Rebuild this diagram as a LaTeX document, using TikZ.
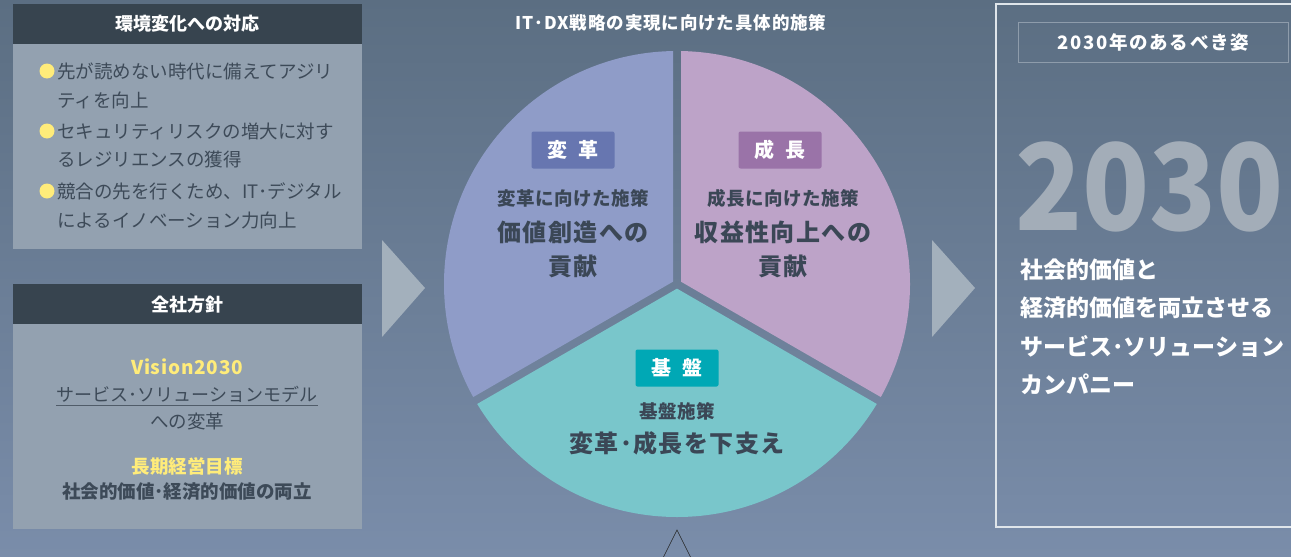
\documentclass[tikz,border=0pt]{standalone}
\usepackage{fontspec}
\setmainfont{Noto Sans CJK JP}
\usetikzlibrary{calc}
\definecolor{bgtop}{HTML}{5B6E82}
\definecolor{bgbot}{HTML}{7A8DAA}
\definecolor{hdrc}{HTML}{37444F}
\definecolor{bodyc}{HTML}{93A1B0}
\definecolor{txtc}{HTML}{3D4A58}
\definecolor{yel}{HTML}{FFEC7A}
\definecolor{tric}{HTML}{A3B0BC}
\definecolor{blu}{HTML}{8F9CC8}
\definecolor{pur}{HTML}{BDA3C8}
\definecolor{tea}{HTML}{79C6CB}
\definecolor{blulab}{HTML}{6776B0}
\definecolor{purlab}{HTML}{9A73A8}
\definecolor{tealab}{HTML}{00A8B5}
\definecolor{pietxt}{HTML}{3B4756}
\definecolor{big}{HTML}{A3ADB8}
\definecolor{frm}{HTML}{DFE5EA}
\definecolor{hfrm}{HTML}{8E9CAB}
\begin{document}
\begin{tikzpicture}[x=1pt,y=-1pt,
  hdr/.style={fill=hdrc, text=white, inner sep=0, font=\fontsize{18}{20}\selectfont\bfseries},
  bodybox/.style={fill=bodyc, inner sep=0},
  btext/.style={text=txtc, inner sep=0, anchor=west, font=\fontsize{18.5}{20}\selectfont},
  dot/.style={circle, fill=yel, minimum size=15, inner sep=0},
  ctext/.style={text=txtc, inner sep=0, font=\fontsize{18.5}{20}\selectfont},
  ytext/.style={text=yel, inner sep=0, font=\fontsize{18.5}{20}\selectfont\bfseries},
  tri/.style={fill=tric},
  lab/.style={rounded corners=2pt, minimum width=83, minimum height=37, inner sep=0, text=white, font=\fontsize{20}{22}\selectfont\bfseries},
  psub/.style={text=pietxt, inner sep=0, font=\fontsize{18.5}{20}\selectfont\bfseries\addfontfeature{LetterSpace=3}},
  pmain/.style={text=pietxt, inner sep=0, font=\fontsize{24}{26}\selectfont\bfseries\addfontfeature{LetterSpace=6}},
  rtext/.style={text=white, inner sep=0, anchor=west, font=\fontsize{23}{26}\selectfont\bfseries},
]
\useasboundingbox (0,0) rectangle (1291,557);
\shade[top color=bgtop, bottom color=bgbot] (0,0) rectangle (1291,557);

% ---- left top box
\node[bodybox, minimum width=349, minimum height=205, anchor=north west] (b1) at (13,44) {};
\node[hdr, minimum width=349, minimum height=40, anchor=north west] (h1) at (13,4) {環境変化への対応};
\node[dot] (d1) at (47,71) {};
\node[dot] (d2) at (47,131) {};
\node[dot] (d3) at (47,191) {};
\node[btext] (t1a) at (57,71) {先が読めない時代に備えてアジリ};
\node[btext] (t1b) at (57,100) {ティを向上};
\node[btext] (t2a) at (57,131) {セキュリティリスクの増大に対す};
\node[btext] (t2b) at (57,159) {るレジリエンスの獲得};
\node[btext] (t3a) at (57,191) {競合の先を行くため、IT･デジタル};
\node[btext] (t3b) at (57,220) {によるイノベーション力向上};

% ---- left bottom box
\node[bodybox, minimum width=349, minimum height=205, anchor=north west] (b2) at (13,324) {};
\node[hdr, minimum width=349, minimum height=40, anchor=north west] (h2) at (13,284) {全社方針};
\node[ytext, font=\fontsize{19}{20}\selectfont\bfseries\addfontfeature{LetterSpace=4}] (v1) at (187,367) {Vision2030};
\node[ctext, font=\fontsize{18}{20}\selectfont] (v2) at (187,394) {サービス･ソリューションモデル};
\draw[txtc!90, line width=1] ($(v2.south west)+(0,3)$) -- ($(v2.south east)+(0,3)$);
\node[ctext] (v3) at (187,421) {への変革};
\node[ytext] (v4) at (187,466) {長期経営目標};
\node[ctext, font=\fontsize{18.5}{20}\selectfont\bfseries] (v5) at (187,492) {社会的価値･経済的価値の両立};

% ---- arrows
\fill[tri] (382,240) -- (425,288) -- (382,337) -- cycle;
\fill[tri] (932,240) -- (975,288) -- (932,337) -- cycle;

% ---- pie
\node[text=white, inner sep=0, font=\fontsize{17.5}{18}\selectfont\bfseries\addfontfeature{LetterSpace=5}] (ttl) at (671,23) {IT･DX戦略の実現に向けた具体的施策};
\coordinate (C) at (677,284);
\begin{scope}
\clip (C) circle (233pt);
\coordinate (vb) at ($(C)+(210:4.62)$);
\fill[blu] (vb) -- ($(vb)+(150:600)$) -- ($(vb)+(210:600)$) -- ($(vb)+(270:600)$) -- cycle;
\coordinate (vp) at ($(C)+(330:4.62)$);
\fill[pur] (vp) -- ($(vp)+(270:600)$) -- ($(vp)+(330:600)$) -- ($(vp)+(390:600)$) -- cycle;
\coordinate (vt) at ($(C)+(90:4.62)$);
\fill[tea] (vt) -- ($(vt)+(30:600)$) -- ($(vt)+(90:600)$) -- ($(vt)+(150:600)$) -- cycle;
\end{scope}
\node[lab, fill=blulab] (L1) at (573,150) {変\hspace{11pt}革};
\node[lab, fill=purlab] (L2) at (780,150) {成\hspace{11pt}長};
\node[lab, fill=tealab] (L3) at (677,368) {基\hspace{11pt}盤};
\node[psub] (s1) at (573,198) {変革に向けた施策};
\node[pmain] (m1) at (573,232) {価値創造への};
\node[pmain] (m1b) at (573,266) {貢献};
\node[psub] (s2) at (783,198) {成長に向けた施策};
\node[pmain] (m2) at (783,232) {収益性向上への};
\node[pmain] (m2b) at (783,266) {貢献};
\node[psub] (s3) at (677,411) {基盤施策};
\node[pmain] (m3) at (677,443) {変革･成長を下支え};

% ---- bottom outline triangle
\coordinate (ta) at (677,530);
\coordinate (tl) at (661,562);
\coordinate (tr) at (693,562);
\draw[black!85, line width=0.6] (tl) -- (ta) -- (tr);

% ---- right box
\draw[frm, line width=1.3] (1300,4) -- (996,4) -- (996,527) -- (1300,527);
\node[draw=hfrm, line width=0.6, minimum width=270, minimum height=40, anchor=north west, inner sep=0] (rh) at (1018,22) {};
\node[text=white, inner sep=0, font=\fontsize{18.5}{20}\selectfont\bfseries\addfontfeature{LetterSpace=9}] (rht) at (rh.center) {2030年のあるべき姿};
\node[text=big, inner sep=0, anchor=base west, font=\fontsize{120}{120}\selectfont\bfseries] (yr) at (1015,230) {\scalebox{0.92}[1]{2030}};
\node[rtext] (r1) at (1020,270) {社会的価値と};
\node[rtext] (r2) at (1020,308) {経済的価値を両立させる};
\node[rtext] (r3) at (1020,346) {サービス･ソリューション};
\node[rtext] (r4) at (1020,384) {カンパニー};
\end{tikzpicture}
\end{document}
